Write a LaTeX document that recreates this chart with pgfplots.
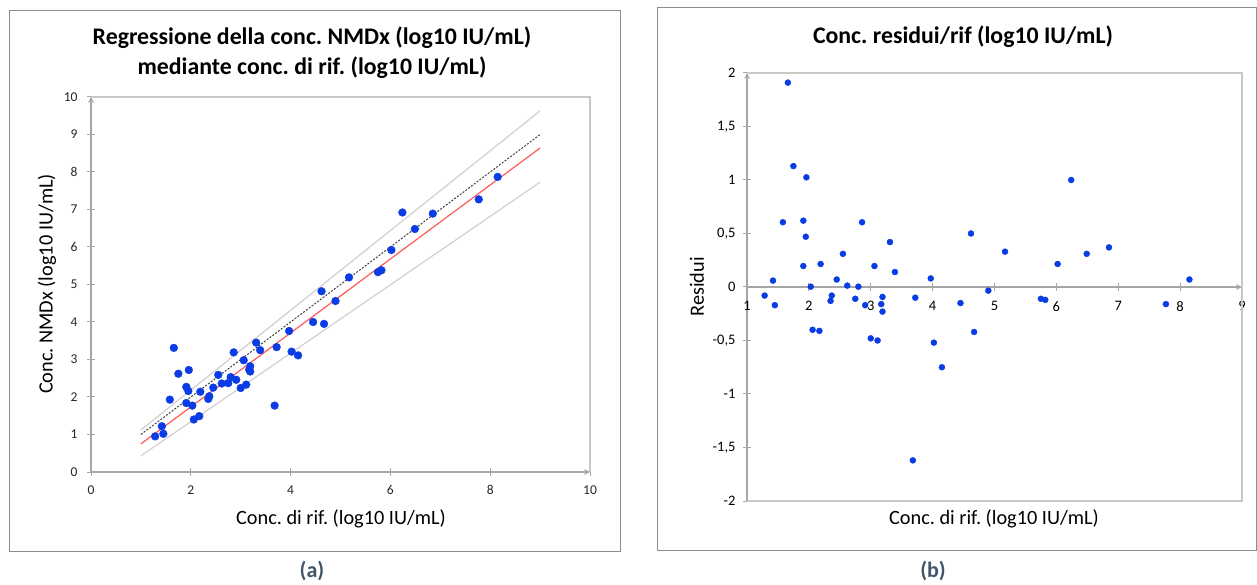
\documentclass[border=0pt]{standalone}
\usepackage{fontspec}
\setmainfont{Carlito}
\usepackage{pgfplots}
\usepackage{pgfplotstable}
\pgfplotsset{compat=1.18}
\frenchspacing

\definecolor{ptblue}{HTML}{0A3CE6}
\definecolor{axgray}{HTML}{A6A6A6}
\definecolor{bordergray}{HTML}{C8C8C8}
\definecolor{framegray}{HTML}{8C8C8C}
\definecolor{fitred}{HTML}{FF5A5A}
\definecolor{bandgray}{HTML}{D0D0D0}
\definecolor{caplabel}{HTML}{44546A}

% x = conc. di rif., y = conc. NMDx, r = residuo
\pgfplotstableread{
x y r
1.66 3.31 1.91
1.75 2.62 1.13
1.96 2.72 1.025
1.58 1.93 0.605
1.91 2.27 0.62
1.95 2.16 0.47
2.86 3.19 0.605
4.62 4.82 0.50
3.31 3.45 0.42
1.91 1.84 0.196
2.19 2.14 0.215
2.55 2.59 0.31
3.06 2.98 0.196
3.39 3.25 0.14
1.42 1.22 0.06
2.45 2.25 0.07
3.97 3.76 0.08
2.03 1.77 0.003
2.62 2.36 0.013
2.80 2.53 0.003
1.285 0.95 -0.08
1.45 1.02 -0.17
2.37 2.02 -0.08
2.35 1.95 -0.13
2.75 2.37 -0.11
2.91 2.46 -0.17
3.19 2.82 -0.093
3.17 2.73 -0.16
3.19 2.68 -0.23
3.72 3.33 -0.10
4.45 4.00 -0.15
2.06 1.40 -0.40
2.17 1.49 -0.41
3.00 2.24 -0.48
3.11 2.33 -0.50
4.02 3.21 -0.52
4.15 3.11 -0.75
3.68 1.77 -1.62
4.67 3.95 -0.42
6.24 6.92 1.00
5.17 5.19 0.33
6.49 6.48 0.31
6.85 6.89 0.37
6.02 5.92 0.215
8.15 7.87 0.07
4.90 4.56 -0.034
5.75 5.33 -0.11
5.82 5.38 -0.12
7.77 7.27 -0.16
}\data

\begin{document}
\begin{tikzpicture}[x=1pt,y=1pt]
\path (0,0) rectangle (1257,582);
% frames
\draw[framegray, line width=1pt] (9.5,30.3) rectangle (620,571.3);
\draw[framegray, line width=1pt] (657,32) rectangle (1256.5,574);

\pgfplotsset{
  common/.style={
    scale only axis, anchor=south west, clip=false,
    axis line style={axgray, line width=1.6pt, -},
    tick style={axgray, line width=1pt},
    tick align=center, major tick length=8pt,
    /pgf/number format/assume math mode=true,
  }
}

% ---- (a) regression
\begin{axis}[common, at={(91pt,110pt)}, width=499pt, height=375pt,
  xmin=0, xmax=10, ymin=0, ymax=10,
  xtick={0,2,...,10}, ytick={0,1,...,10},
  axis lines=left,
  ticklabel style={font=\fontsize{13.5}{14}\selectfont, black!85},
  yticklabel style={xshift=-6pt},
  xticklabel style={yshift=-6pt},
]
\draw[bordergray, line width=1.6pt] (rel axis cs:0,1) -- (rel axis cs:1,1) -- (rel axis cs:1,0);
\addplot[bandgray, line width=1.2pt] coordinates {(1,1.12) (9,9.63)};
\addplot[bandgray, line width=1.2pt] coordinates {(1,0.43) (9,7.73)};
\addplot[black!75, line width=1pt, dash pattern=on 2pt off 1.5pt] coordinates {(1,1) (9,9)};
\addplot[fitred, line width=1.2pt] coordinates {(1,0.75) (9,8.64)};
\addplot[only marks, mark=*, mark size=3.9pt, ptblue, mark options={draw=ptblue, fill=ptblue}] table[x=x, y=y] {\data};
\end{axis}

% ---- (b) residuals
\begin{axis}[common, at={(747pt,81pt)}, width=495pt, height=428pt,
  xmin=1, xmax=9, ymin=-2, ymax=2,
  xtick={1,...,9}, ytick={-2,-1.5,...,2},
  yticklabels={-2,{-1,5},-1,{-0,5},0,{0,5},1,{1,5},2},
  axis x line=middle, axis y line=left,
  hide obscured x ticks=false, hide obscured y ticks=false,
  ticklabel style={font=\fontsize{14.5}{15}\selectfont, black},
  yticklabel style={xshift=-4pt},
  xticklabel style={yshift=-7pt},
]
\draw[bordergray, line width=1.6pt] (rel axis cs:0,0) -- (rel axis cs:1,0) -- (rel axis cs:1,1) -- (rel axis cs:0,1);
\addplot[only marks, mark=*, mark size=3pt, ptblue, mark options={draw=ptblue, fill=ptblue}] table[x=x, y=r] {\data};
\end{axis}

% titles and labels
\node[font=\fontsize{23.8}{30}\selectfont\bfseries, align=center] at (312,529)
  {Regressione della conc. NMDx (log10 IU/mL)\\mediante conc. di rif. (log10 IU/mL)};
\node[font=\fontsize{20.3}{22}\selectfont, rotate=90] at (47,298) {Conc. NMDx (log10 IU/mL)};
\node[font=\fontsize{20.3}{22}\selectfont] at (341,63) {Conc. di rif. (log10 IU/mL)};

\node[font=\fontsize{23.8}{28}\selectfont\bfseries] at (963,545) {Conc. residui/rif (log10 IU/mL)};
\node[font=\fontsize{20.3}{22}\selectfont, rotate=90] at (697,295) {Residui};
\node[font=\fontsize{20.3}{22}\selectfont] at (994,63) {Conc. di rif. (log10 IU/mL)};

\node[font=\fontsize{22}{24}\selectfont\bfseries, text=caplabel] at (312,11) {(a)};
\node[font=\fontsize{22}{24}\selectfont\bfseries, text=caplabel] at (933,11) {(b)};
\end{tikzpicture}
\end{document}
